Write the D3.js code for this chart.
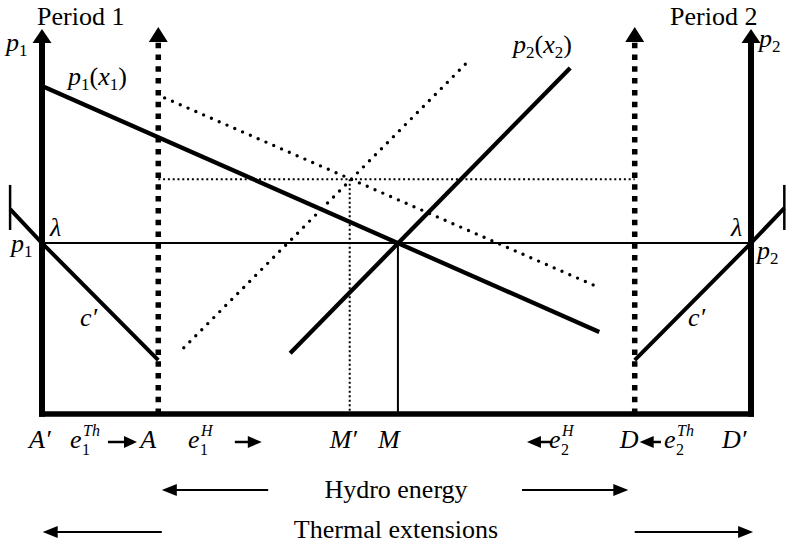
<!DOCTYPE html>
<html>
<head>
<meta charset="utf-8">
<script src="https://cdn.jsdelivr.net/npm/d3@7"></script>
<style>
  html, body { margin: 0; padding: 0; background: #fff; }
  svg { display: block; }
  text { font-family: "Liberation Serif", "Times New Roman", serif; fill: #000; }
</style>
</head>
<body>
<svg id="chart" width="788" height="545"></svg>
<script>
// quantity axis runs from A' (0) to D' (100), price axis 0..100
const tickNames = ["A′", "A", "M′", "M", "D", "D′"];
const tickValues = [0, 16.4, 43.4, 50.2, 83.6, 100];

const lambdaPrice = 44.4;      // p1 = p2 = lambda
const shiftedPrice = 61.0;     // dotted level at M'

const p1Demand  = [[0, 85.2], [78.6, 21.3]];
const p1Shifted = [[17.3, 82.1], [78.4, 33.0]];
const p2Demand  = [[35.0, 15.8], [74.5, 89.9]];
const p2Shifted = [[20.0, 17.2], [59.9, 91.2]];

const costLeft  = [[-4.5, 53.2], [0, 44.4], [16.4, 14.0]];
const costRight = [[83.6, 14.0], [100, 44.4], [104.7, 53.5]];
const capTicks  = [[-4.5, 47.8, 59.5], [104.7, 47.8, 59.5]];

const svg = d3.select("#chart");
const x = d3.scaleLinear().domain([0, 100]).range([42, 751]);
const y = d3.scaleLinear().domain([0, 100]).range([414, 29]);
const line = d3.line().x(d => x(d[0])).y(d => y(d[1]));

const arrowHead = (g, cx, tipY, dir, len, half) => {
    // dir: "up", "left", "right"
    let pts;
    if (dir === "up") pts = [[cx, tipY], [cx - half, tipY + len], [cx + half, tipY + len]];
    else if (dir === "right") pts = [[cx, tipY], [cx - len, tipY - half], [cx - len, tipY + half]];
    else pts = [[cx, tipY], [cx + len, tipY - half], [cx + len, tipY + half]];
    g.append("path").attr("d", "M" + pts.join("L") + "Z").attr("fill", "#000");
};

const g = svg.append("g");

// reference lines
g.append("line")
    .attr("x1", x(16.4)).attr("x2", x(83.6))
    .attr("y1", y(shiftedPrice)).attr("y2", y(shiftedPrice))
    .attr("stroke", "#000").attr("stroke-width", 2).attr("stroke-dasharray", "2 2.8");
g.append("line")
    .attr("x1", x(43.4)).attr("x2", x(43.4))
    .attr("y1", y(shiftedPrice)).attr("y2", y(0))
    .attr("stroke", "#000").attr("stroke-width", 2).attr("stroke-dasharray", "2 2.5");
g.append("line")
    .attr("x1", x(0)).attr("x2", x(100))
    .attr("y1", y(lambdaPrice)).attr("y2", y(lambdaPrice))
    .attr("stroke", "#000").attr("stroke-width", 2);
g.append("line")
    .attr("x1", x(50.2)).attr("x2", x(50.2))
    .attr("y1", y(lambdaPrice)).attr("y2", y(0))
    .attr("stroke", "#000").attr("stroke-width", 2);

// demand curves
[p1Shifted, p2Shifted].forEach(d => {
    g.append("path").attr("d", line(d)).attr("fill", "none")
        .attr("stroke", "#000").attr("stroke-width", 3.4)
        .attr("stroke-linecap", "round").attr("stroke-dasharray", "0 8.5");
});
[p1Demand, p2Demand].forEach(d => {
    g.append("path").attr("d", line(d)).attr("fill", "none")
        .attr("stroke", "#000").attr("stroke-width", 4.3);
});

// marginal cost of thermal
[costLeft, costRight].forEach(d => {
    g.append("path").attr("d", line(d)).attr("fill", "none")
        .attr("stroke", "#000").attr("stroke-width", 4);
});
capTicks.forEach(t => {
    g.append("line")
        .attr("x1", x(t[0])).attr("x2", x(t[0]))
        .attr("y1", y(t[1])).attr("y2", y(t[2]))
        .attr("stroke", "#000").attr("stroke-width", 2.5);
});

// dashed hydro walls at A and D
[16.4, 83.6].forEach(v => {
    g.append("line")
        .attr("x1", x(v)).attr("x2", x(v))
        .attr("y1", y(0)).attr("y2", y(100.5) + 14)
        .attr("stroke", "#000").attr("stroke-width", 5.5).attr("stroke-dasharray", "5.5 6.3");
    arrowHead(g, x(v), y(100.5), "up", 15, 9.5);
});

// main axes
g.append("line")
    .attr("x1", x(0) - 3).attr("x2", x(100) + 3)
    .attr("y1", y(0)).attr("y2", y(0))
    .attr("stroke", "#000").attr("stroke-width", 5.5);
[0, 100].forEach(v => {
    g.append("line")
        .attr("x1", x(v)).attr("x2", x(v))
        .attr("y1", y(0) + 2.7).attr("y2", y(100) + 13)
        .attr("stroke", "#000").attr("stroke-width", 6);
    arrowHead(g, x(v), y(100), "up", 14, 9.5);
});

// text helpers
const BIG = 26, SMALL = 17, TINY = 16;
function mathText(px, py, parts) {
    const t = g.append("text").attr("x", px).attr("y", py).attr("font-size", BIG);
    let shift = 0;
    parts.forEach(p => {
        const want = p.sub ? 5 : 0;
        t.append("tspan")
            .attr("dy", want - shift)
            .attr("font-size", p.sub ? SMALL : BIG)
            .attr("font-style", p.i ? "italic" : "normal")
            .text(p.t);
        shift = want;
    });
    return t;
}
// e with stacked subscript and superscript
function energyText(px, py, sub, sup) {
    const e = g.append("text").attr("x", px).attr("y", py)
        .attr("font-size", BIG).attr("font-style", "italic").text("e");
    const w = e.node().getComputedTextLength();
    g.append("text").attr("x", px + w + 0.5).attr("y", py + 7)
        .attr("font-size", TINY).text(sub);
    g.append("text").attr("x", px + w + 1.5).attr("y", py - 12)
        .attr("font-size", TINY).attr("font-style", "italic").text(sup);
}
function flowArrow(a, b, py, head, stroke) {
    const dir = b > a ? "right" : "left";
    g.append("line")
        .attr("x1", x(a)).attr("x2", x(b) + (dir === "right" ? -head + 1 : head - 1))
        .attr("y1", py).attr("y2", py)
        .attr("stroke", "#000").attr("stroke-width", stroke);
    arrowHead(g, x(b), py, dir, head, 6);
}

// headings
g.append("text").attr("x", 37).attr("y", 25).attr("font-size", BIG).text("Period 1");
g.append("text").attr("x", 670).attr("y", 25).attr("font-size", BIG).text("Period 2");
mathText(6, 51, [{t: "p", i: true}, {t: "1", sub: true}]);
mathText(759, 47, [{t: "p", i: true}, {t: "2", sub: true}]);

// curve labels
mathText(68, 85, [{t: "p", i: true}, {t: "1", sub: true}, {t: "("}, {t: "x", i: true}, {t: "1", sub: true}, {t: ")"}]);
mathText(513, 53, [{t: "p", i: true}, {t: "2", sub: true}, {t: "("}, {t: "x", i: true}, {t: "2", sub: true}, {t: ")"}]);
mathText(11, 252, [{t: "p", i: true}, {t: "1", sub: true}]);
mathText(757, 259, [{t: "p", i: true}, {t: "2", sub: true}]);
g.append("text").attr("x", 50).attr("y", 236).attr("font-size", BIG).attr("font-style", "italic").text("λ");
g.append("text").attr("x", 731).attr("y", 236).attr("font-size", BIG).attr("font-style", "italic").text("λ");
g.append("text").attr("x", 80).attr("y", 326).attr("font-size", BIG).attr("font-style", "italic").text("c′");
g.append("text").attr("x", 688).attr("y", 326).attr("font-size", BIG).attr("font-style", "italic").text("c′");

// quantity marks
const tickOffsets = [-13, -18, -20, -20, -15, -29];
tickNames.forEach((n, i) => {
    g.append("text").attr("x", x(tickValues[i]) + tickOffsets[i]).attr("y", 448)
        .attr("font-size", BIG).attr("font-style", "italic").text(n);
});
energyText(70, 448, "1", "Th");
energyText(188, 448, "1", "H");
energyText(549, 448, "2", "H");
energyText(664, 448, "2", "Th");
flowArrow(9.3, 13.4, 442, 13, 2.5);
flowArrow(27.2, 31.0, 442, 14, 2.5);
flowArrow(72.0, 68.4, 442, 14, 2.5);
flowArrow(87.3, 84.3, 442, 14, 2.5);

// bottom captions
g.append("text").attr("x", 396).attr("y", 498).attr("font-size", BIG)
    .attr("text-anchor", "middle").text("Hydro energy");
g.append("text").attr("x", 396).attr("y", 538).attr("font-size", BIG)
    .attr("text-anchor", "middle").text("Thermal extensions");
flowArrow(31.9, 16.9, 490, 15, 2);
flowArrow(67.7, 82.7, 490, 15, 2);
flowArrow(16.9, 0.1, 532, 15, 2);
flowArrow(83.6, 100.3, 532, 15, 2);
</script>
</body>
</html>
